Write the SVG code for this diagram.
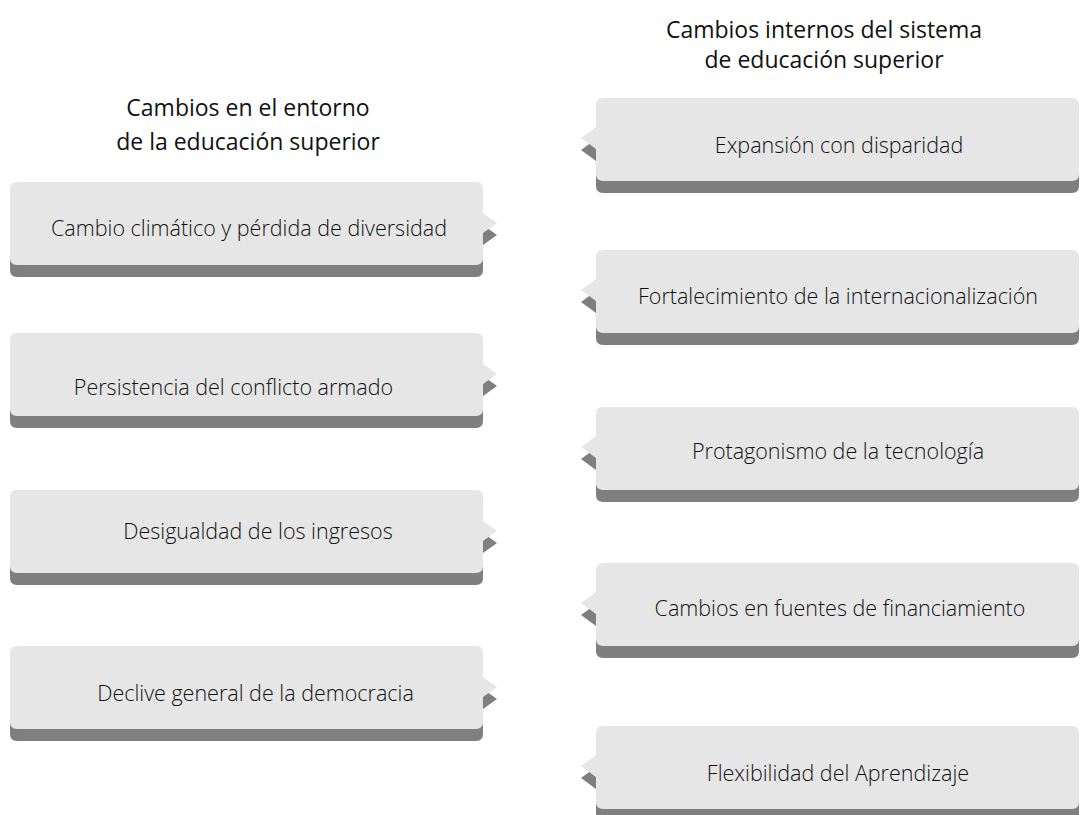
<svg xmlns="http://www.w3.org/2000/svg" width="1080" height="815" viewBox="0 0 1080 815">
  <defs>
    <path id="lbox" d="M7,0 H466 Q473,0 473,7 V31 L487,41 L473,51 V76 Q473,83 466,83 H7 Q0,83 0,76 V7 Q0,0 7,0 Z"/>
    <path id="rbox" d="M22,0 H491 Q498,0 498,7 V76 Q498,83 491,83 H22 Q15,83 15,76 V51 L0,40 L15,29 V7 Q15,0 22,0 Z"/>
  </defs>
  <style>
    .shadow { fill: #7f7f7f; }
    .face { fill: #e6e6e6; }
    .label { font-family: "Open Sans", "Liberation Sans", sans-serif; font-weight: 300; font-size: 21.5px; fill: #111111; text-anchor: middle; }
    .header { font-family: "Open Sans", "Liberation Sans", sans-serif; font-weight: 400; font-size: 23px; fill: #111111; text-anchor: middle; }
  </style>
  <rect width="1080" height="815" fill="#ffffff"/>

  <g id="header-left">
    <text class="header" x="248" y="116">Cambios en el entorno</text>
    <text class="header" x="248" y="150">de la educación superior</text>
  </g>
  <g id="header-right">
    <text class="header" x="824" y="38">Cambios internos del sistema</text>
    <text class="header" x="824" y="68">de educación superior</text>
  </g>

  <g id="connectors"></g>

  <g id="l1" transform="translate(10,182)">
    <use href="#lbox" class="shadow" y="12"/>
    <use href="#lbox" class="face"/>
    <text class="label" x="239" y="54">Cambio climático y pérdida de diversidad</text>
  </g>
  <g id="l2" transform="translate(10,333)">
    <use href="#lbox" class="shadow" y="12"/>
    <use href="#lbox" class="face"/>
    <text class="label" x="223.5" y="62">Persistencia del conflicto armado</text>
  </g>
  <g id="l3" transform="translate(10,490)">
    <use href="#lbox" class="shadow" y="12"/>
    <use href="#lbox" class="face"/>
    <text class="label" x="248" y="49">Desigualdad de los ingresos</text>
  </g>
  <g id="l4" transform="translate(10,646)">
    <use href="#lbox" class="shadow" y="12"/>
    <use href="#lbox" class="face"/>
    <text class="label" x="245.5" y="55">Declive general de la democracia</text>
  </g>

  <g id="r1" transform="translate(581,98)">
    <use href="#rbox" class="shadow" y="12"/>
    <use href="#rbox" class="face"/>
    <text class="label" x="258" y="55">Expansión con disparidad</text>
  </g>
  <g id="r2" transform="translate(581,250)">
    <use href="#rbox" class="shadow" y="12"/>
    <use href="#rbox" class="face"/>
    <text class="label" x="257" y="54">Fortalecimiento de la internacionalización</text>
  </g>
  <g id="r3" transform="translate(581,407)">
    <use href="#rbox" class="shadow" y="12"/>
    <use href="#rbox" class="face"/>
    <text class="label" x="257" y="52">Protagonismo de la tecnología</text>
  </g>
  <g id="r4" transform="translate(581,563)">
    <use href="#rbox" class="shadow" y="12"/>
    <use href="#rbox" class="face"/>
    <text class="label" x="259" y="53">Cambios en fuentes de financiamiento</text>
  </g>
  <g id="r5" transform="translate(581,726)">
    <use href="#rbox" class="shadow" y="12"/>
    <use href="#rbox" class="face"/>
    <text class="label" x="257" y="55">Flexibilidad del Aprendizaje</text>
  </g>
</svg>
